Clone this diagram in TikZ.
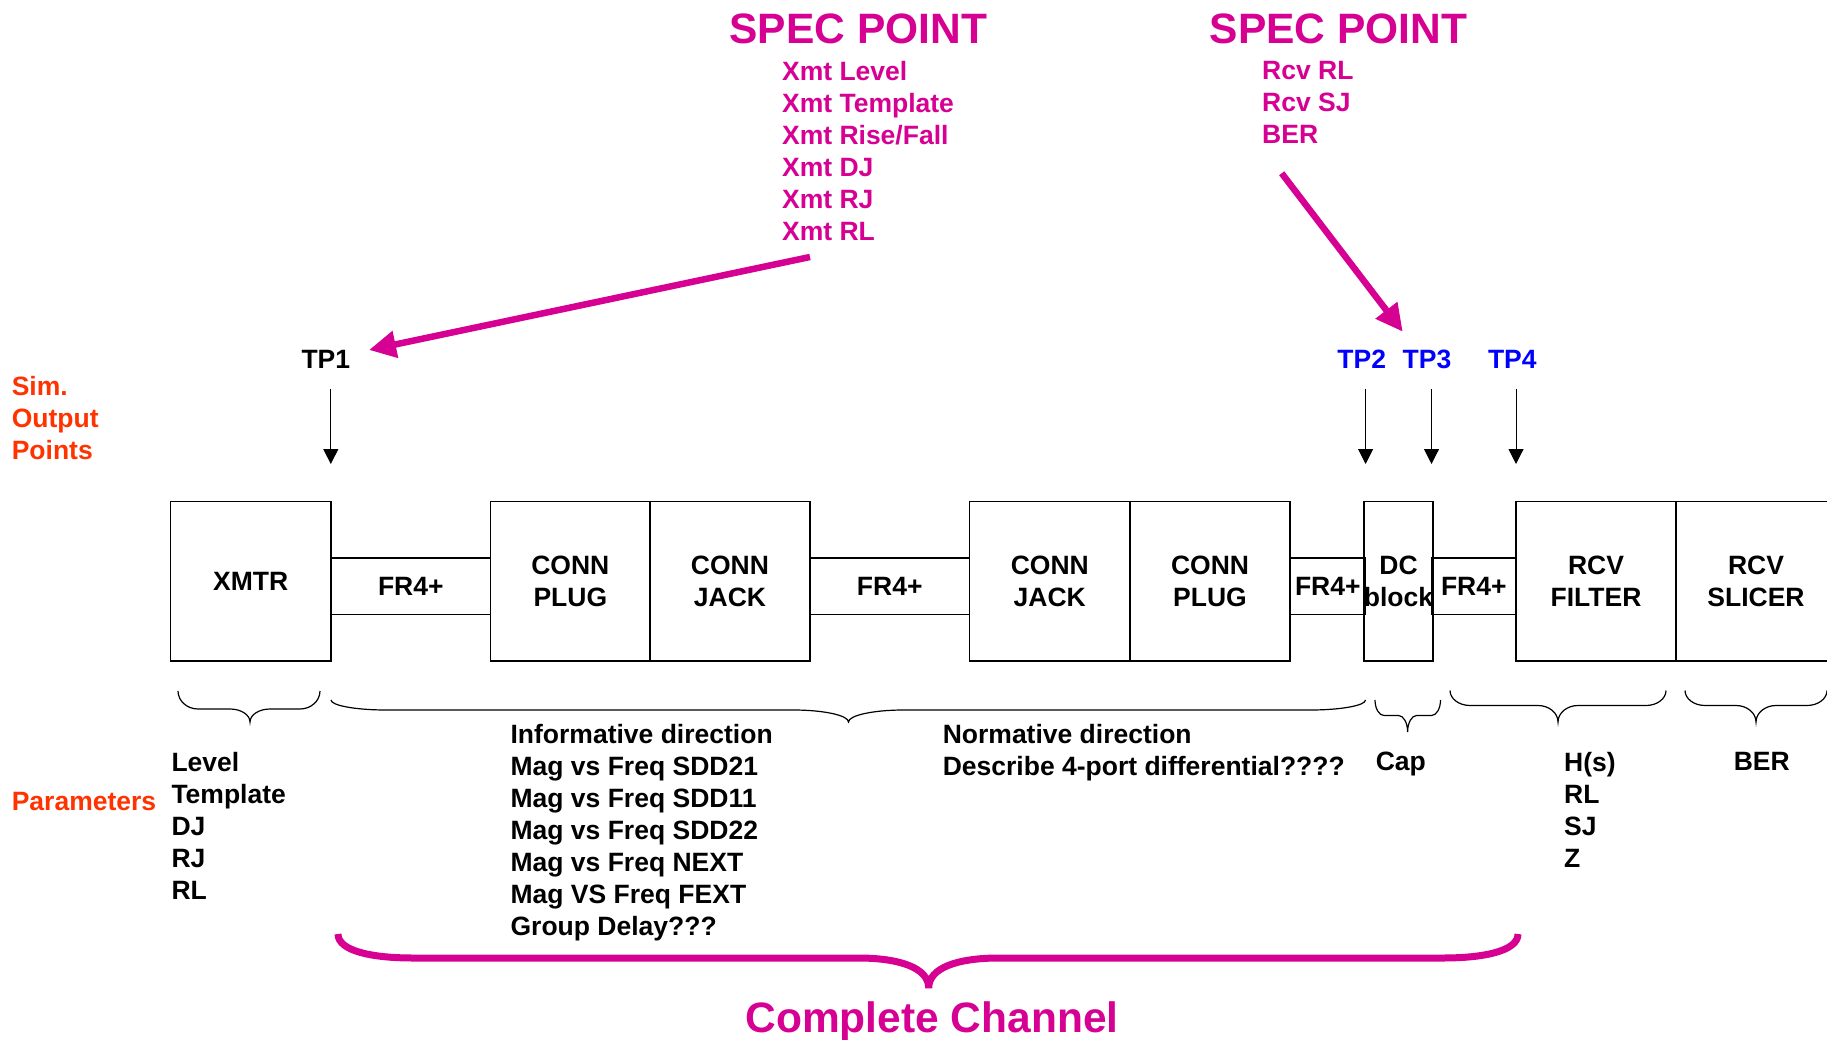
\documentclass[tikz,border=0pt]{standalone}
\usepackage{fontspec}
\setmainfont{Liberation Sans}
\usetikzlibrary{arrows.meta}
\definecolor{mag}{RGB}{214,0,147}
\definecolor{org}{RGB}{255,51,0}
\definecolor{tpblue}{RGB}{0,0,255}
\newcommand\pbr[7]{%
 \draw[brc] (#1,#4) .. controls (#1,{#4+0.55*(#5-#4)}) and ({#1+0.45*#7},#5) .. ({#1+#7},#5)
   -- ({#3-#7},#5) .. controls ({#3-0.45*#7},#5) and (#3,{#5+0.45*(#6-#5)}) .. (#3,#6)
   .. controls (#3,{#5+0.45*(#6-#5)}) and ({#3+0.45*#7},#5) .. ({#3+#7},#5)
   -- ({#2-#7},#5) .. controls ({#2-0.45*#7},#5) and (#2,{#4+0.55*(#5-#4)}) .. (#2,#4);}
\begin{document}
\begin{tikzpicture}[x=1pt,y=-1pt,
  txt/.style={font=\fontsize{26.5}{32}\selectfont\bfseries, inner sep=0pt, align=left},
  bigtxt/.style={font=\fontsize{42.5}{50}\selectfont\bfseries, inner sep=0pt, text=mag},
  blk/.style={draw, line width=1.3pt, inner sep=0pt, align=center, font=\fontsize{26.5}{32}\selectfont\bfseries},
  brc/.style={line width=1.2pt},
  tparr/.style={-{Triangle[length=15pt,width=15pt]}, line width=1pt},
  magarr/.style={-{Triangle[length=27pt,width=26pt]}, line width=6.5pt, draw=mag}]
\clip (0,0) rectangle (1827,1040);
\fill[white] (0,0) rectangle (1827,1040);

% FR4+ strips
\node[blk, minimum width=159.6pt, minimum height=56.5pt] (fr1) at (410.8,586.25) {FR4+};
\node[blk, minimum width=159.5pt, minimum height=56.5pt] (fr2) at (889.75,586.25) {FR4+};
\node[blk, minimum width=75.5pt, minimum height=56.5pt] (fr3) at (1327.75,586.25) {FR4+};
\node[blk, minimum width=84.5pt, minimum height=56.5pt] (fr4) at (1473.75,586.25) {FR4+};
% big blocks
\node[blk, minimum width=160.5pt, minimum height=159.5pt] (xmtr) at (250.75,581.25) {XMTR};
\node[blk, minimum width=159.4pt, minimum height=159.5pt] (cplug1) at (570.3,581.25) {CONN\\PLUG};
\node[blk, minimum width=160pt, minimum height=159.5pt] (cjack1) at (730,581.25) {CONN\\JACK};
\node[blk, minimum width=160.5pt, minimum height=159.5pt] (cjack2) at (1049.75,581.25) {CONN\\JACK};
\node[blk, minimum width=160pt, minimum height=159.5pt] (cplug2) at (1210,581.25) {CONN\\PLUG};
\node[blk, minimum width=66pt, minimum height=159.5pt] (dc) at (1398.5,581.25) {DC\\block};
\node[blk, minimum width=160pt, minimum height=159.5pt] (rfilt) at (1596,581.25) {RCV\\FILTER};
\node[blk, minimum width=160pt, minimum height=159.5pt] (rslic) at (1756,581.25) {RCV\\SLICER};

% spec points
\node[bigtxt, anchor=base west] (spec1) at (729.4,43.2) {SPEC POINT};
\node[bigtxt, anchor=base west] (spec2) at (1209.5,43.2) {SPEC POINT};
\node[txt, text=mag, anchor=north west] (xmtlist) at (781.9,61.5)
  {Xmt Level\\Xmt Template\\Xmt Rise/Fall\\Xmt DJ\\Xmt RJ\\Xmt RL};
\node[txt, text=mag, anchor=north west] (rcvlist) at (1262,61.5)
  {Rcv RL\\Rcv SJ\\BER};

% magenta arrows
\coordinate (m1s) at (810,257);
\coordinate (m1e) at (369,350);
\coordinate (m2s) at (1281.7,173.3);
\coordinate (m2e) at (1402.7,331.7);
\draw[magarr] (m1s) -- (m1e);
\draw[magarr] (m2s) -- (m2e);

% test points
\node[txt, anchor=base] (tp1) at (325.8,368.3) {TP1};
\node[txt, text=tpblue, anchor=base] (tp2) at (1361.7,368.3) {TP2};
\node[txt, text=tpblue, anchor=base] (tp3) at (1427,368.3) {TP3};
\node[txt, text=tpblue, anchor=base] (tp4) at (1512.3,368.3) {TP4};
\coordinate (a1s) at (330.8,389); \coordinate (a1e) at (330.8,464);
\coordinate (a2s) at (1365.6,389); \coordinate (a2e) at (1365.6,464);
\coordinate (a3s) at (1431.5,389); \coordinate (a3e) at (1431.5,464);
\coordinate (a4s) at (1516,389); \coordinate (a4e) at (1516,464);
\draw[tparr] (a1s) -- (a1e);
\draw[tparr] (a2s) -- (a2e);
\draw[tparr] (a3s) -- (a3e);
\draw[tparr] (a4s) -- (a4e);

% left labels
\node[txt, text=org, anchor=north west] (sim) at (11.6,376.5) {Sim.\\Output\\Points};
\node[txt, text=org, anchor=base west] (params) at (11.6,810) {Parameters};

% thin braces
\pbr{178}{320}{250}{691}{709}{722}{20}
\pbr{331}{1365.5}{848.5}{700}{710}{722}{55}
\pbr{1375}{1440.5}{1407.6}{700}{715.5}{732}{9}
\pbr{1450}{1666}{1558}{690.5}{705.5}{722}{20}
\pbr{1685}{1827}{1756}{690.5}{705.5}{722}{20}

% parameter lists
\node[txt, anchor=north west] (lvl) at (171.3,752.2) {Level\\Template\\DJ\\RJ\\RL};
\node[txt, anchor=north west] (info) at (510.4,724.2)
  {Informative direction\\Mag vs Freq SDD21\\Mag vs Freq SDD11\\Mag vs Freq SDD22\\Mag vs Freq NEXT\\Mag VS Freq FEXT\\Group Delay???};
\node[txt, anchor=north west] (norm) at (942.6,724.2)
  {Normative direction\\Describe 4-port differential????};
\node[txt, anchor=north west] (cap) at (1375.6,752.2) {Cap};
\node[txt, anchor=north west] (hs) at (1563.9,752.2) {H(s)\\RL\\SJ\\Z};
\node[txt, anchor=north west] (ber) at (1733.6,752.2) {BER};

% complete channel brace
\draw[mag, line width=7pt]
  (338,934) .. controls (338,951) and (372,958) .. (413,958)
  -- (858,958) .. controls (900,958) and (928.7,968) .. (928.7,988)
  .. controls (928.7,968) and (957,958) .. (999,958)
  -- (1443,958) .. controls (1484,958) and (1518,951) .. (1518,934);
\node[bigtxt, anchor=base] (complete) at (932,1032.5) {Complete Channel};
\end{tikzpicture}
\end{document}
